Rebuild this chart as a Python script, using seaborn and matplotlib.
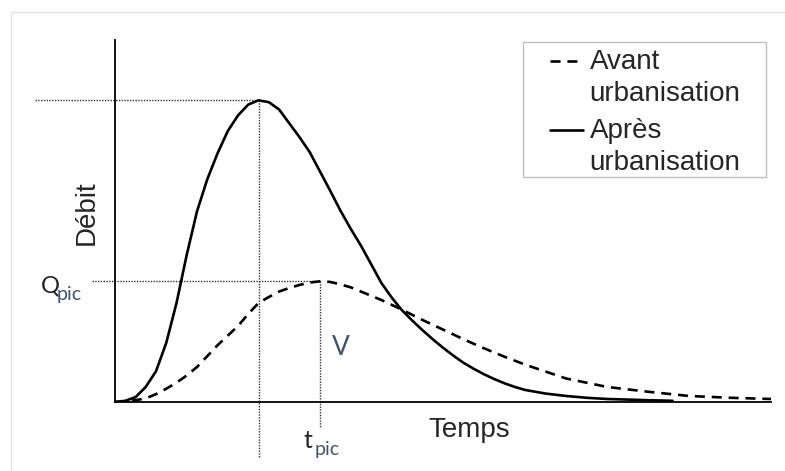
import numpy as np
import pandas as pd
import matplotlib
matplotlib.use("Agg")
import matplotlib.pyplot as plt
import seaborn as sns
from matplotlib.patches import Rectangle

# hydrogrammes (temps et débit en unités arbitraires)
t_avant = [0, 0.25, 0.5, 0.75, 1, 1.25, 1.5, 1.75, 2, 2.25, 2.5, 2.75, 3,
           3.25, 3.5, 3.75, 4, 4.25, 4.5, 4.75, 5, 5.25, 5.5, 5.75, 6, 6.25,
           6.5, 7, 7.5, 8, 8.5, 9, 9.5, 10, 11, 12, 13, 14, 15, 16]
q_avant = [0, 0.01, 0.03, 0.06, 0.13, 0.22, 0.32, 0.44, 0.58, 0.76, 0.94,
           1.10, 1.26, 1.46, 1.64, 1.74, 1.83, 1.89, 1.94, 1.98, 2.0, 1.99,
           1.95, 1.90, 1.83, 1.76, 1.69, 1.53, 1.36, 1.20, 1.04, 0.89, 0.75,
           0.62, 0.39, 0.25, 0.17, 0.10, 0.07, 0.05]

t_apres = [0, 0.25, 0.5, 0.75, 1, 1.25, 1.5, 1.75, 2, 2.25, 2.5, 2.75, 3,
           3.25, 3.5, 3.75, 4, 4.25, 4.5, 4.75, 5, 5.25, 5.5, 5.75, 6, 6.25,
           6.5, 6.75, 7, 7.25, 7.5, 7.75, 8, 8.25, 8.5, 8.75, 9, 9.25, 9.5,
           9.75, 10, 10.5, 11, 11.5, 12, 13, 13.6]
q_apres = [0, 0.02, 0.08, 0.25, 0.51, 0.98, 1.64, 2.44, 3.16, 3.69, 4.12,
           4.49, 4.75, 4.93, 5.0, 4.97, 4.85, 4.62, 4.39, 4.14, 3.82, 3.50,
           3.17, 2.87, 2.59, 2.28, 1.97, 1.73, 1.52, 1.35, 1.19, 1.04, 0.90,
           0.77, 0.65, 0.55, 0.46, 0.38, 0.31, 0.25, 0.20, 0.14, 0.10, 0.07,
           0.05, 0.03, 0.02]

lab_avant = "Avant\nurbanisation"
lab_apres = "Après\nurbanisation"

x_ticks = [0, 5, 10, 15]
y_ticks = [0, 1, 2, 3, 4, 5, 6]

df = pd.concat([
    pd.DataFrame({"Temps": t_avant, "Débit": q_avant, "Courbe": lab_avant}),
    pd.DataFrame({"Temps": t_apres, "Débit": q_apres, "Courbe": lab_apres}),
])

sns.set_style("white")
plt.rcParams["font.family"] = ["Liberation Sans", "DejaVu Sans"]

W, H = 785, 471
fig = plt.figure(figsize=(W / 100, H / 100), dpi=100)
ax = fig.add_axes([115 / W, 1 - 402 / H, (771 - 115) / W, (402 - 40) / H])


def px(x, y):
    return x / W, 1 - y / H


sns.lineplot(data=df, x="Temps", y="Débit", style="Courbe",
             style_order=[lab_avant, lab_apres],
             dashes={lab_avant: (3.8, 2.6), lab_apres: ""},
             color="black", lw=1.9, sort=False, estimator=None, ax=ax)

ax.set_xlim(0, 16)
ax.set_ylim(0, 6)
ax.set_xticks(x_ticks)
ax.set_yticks(y_ticks)
ax.tick_params(length=4, width=1, color="#c8c8c8",
               labelbottom=False, labelleft=False)
ax.set_xlabel("")
ax.set_ylabel("")
for s in ["top", "right"]:
    ax.spines[s].set_visible(False)
for s in ["left", "bottom"]:
    ax.spines[s].set_color("black")
    ax.spines[s].set_linewidth(1.3)

# lignes pointillées du pic
i1 = int(np.argmax(q_apres))
i2 = int(np.argmax(q_avant))
dot = dict(color="#333333", lw=1.0, ls=(0, (1, 1)), clip_on=False, zorder=1)
ax.plot([-1.95, t_apres[i1]], [q_apres[i1]] * 2, **dot)
ax.plot([t_apres[i1]] * 2, [q_apres[i1], -0.93], **dot)
ax.plot([-0.56, t_avant[i2]], [q_avant[i2]] * 2, **dot)
ax.plot([t_avant[i2]] * 2, [q_avant[i2], -0.42], **dot)

# légende
handles, labels = ax.get_legend_handles_labels()
leg = ax.legend(handles, labels, loc="upper left",
                bbox_to_anchor=px(550, 49), bbox_transform=fig.transFigure,
                frameon=False, fontsize=20, handlelength=1.2,
                handletextpad=0.22, borderpad=0, labelspacing=0.4,
                borderaxespad=0)
for t in leg.get_texts():
    t.set_linespacing(1.3)
for ln in leg.get_lines():
    ln.set_ydata(np.asarray(ln.get_ydata()) + 12.5)
fig.add_artist(Rectangle(px(523, 177), 243 / W, 135 / H,
                         transform=fig.transFigure, fill=False,
                         ec="#bfbfbf", lw=1))

# cadre extérieur
fig.add_artist(Rectangle(px(11, 520), 1.2, (520 - 12) / H,
                         transform=fig.transFigure, fill=False,
                         ec="#e2e2e2", lw=1))

# textes
fig.text(*px(94, 213), "Débit", rotation=90, rotation_mode="anchor",
         ha="center", va="baseline", fontsize=20)
fig.text(*px(428, 437), "Temps", ha="left", va="baseline", fontsize=20)

sub = "#44546A"
fig.text(*px(41, 293), "Q", family="Lato", fontsize=17, color="#222222",
         ha="left", va="baseline")
fig.text(*px(57, 300), "pic", family="Lato", fontsize=14, color=sub,
         ha="left", va="baseline")
fig.text(*px(304, 448), "t", family="Lato", fontsize=18, color="#222222",
         ha="left", va="baseline")
fig.text(*px(315, 455), "pic", family="Lato", fontsize=14, color=sub,
         ha="left", va="baseline")
fig.text(*px(332, 355), "V", family="Lato", fontsize=19, color=sub,
         ha="left", va="baseline")

fig.savefig("out.png", dpi=100, facecolor="white")
